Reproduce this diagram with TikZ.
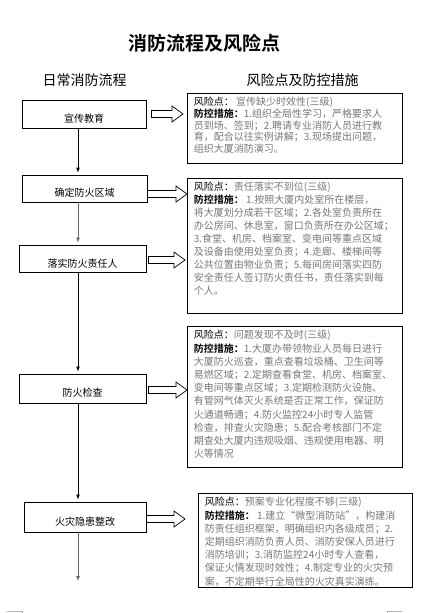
\documentclass[tikz,border=0pt]{standalone}
\usepackage{fontspec}
\setmainfont{Noto Sans CJK SC}[BoldFont={Noto Sans CJK SC Bold}]
\usetikzlibrary{calc}
\definecolor{notegray}{RGB}{120,120,120}
\newcommand{\lbl}[1]{\textcolor{black}{#1}}
\newcommand{\lblb}[1]{\textcolor{black}{\bfseries #1}}
\newcommand{\blockarrow}[2]{%
  \draw[hollow] let \p1=(#1), \p2=(#2) in
    (\x1,{\y1+3.5pt}) -- ({\x2-11pt},{\y1+3.5pt}) -- ({\x2-11pt},{\y1+8pt})
    -- (\x2,\y1) -- ({\x2-11pt},{\y1-8pt}) -- ({\x2-11pt},{\y1-3.5pt})
    -- (\x1,{\y1-3.5pt}) -- cycle;}
\tikzset{
  stepbox/.style={draw, line width=0.8pt, inner sep=0pt,
    font=\fontsize{10}{12}\selectfont},
  riskbox/.style={draw, line width=0.8pt, anchor=north west,
    inner xsep=6.5pt, inner ysep=4pt, align=left, text=notegray},
  flow/.style={-latex, line width=0.7pt, shorten >=2pt},
  hollow/.style={line width=0.7pt, fill=white},
}
\begin{document}
\begin{tikzpicture}[x=1pt, y=-1pt]
\useasboundingbox (0,0) rectangle (426,613);
\fill[white] (0,0) rectangle (426,613);

%headings
\node[font=\fontsize{19}{22}\selectfont\bfseries] (title) at (204,43) {消防流程及风险点};
\node[font=\fontsize{14}{16}\selectfont] (lefthead) at (84.5,80) {日常消防流程};
\node[font=\fontsize{14}{16}\selectfont] (righthead) at (302.5,80) {风险点及防控措施};

%daily steps
\node[stepbox, minimum width=124pt, minimum height=28pt] (b1) at (84,114)
  {\raisebox{-5pt}[\height][\depth]{宣传教育}};
\node[stepbox, minimum width=125pt, minimum height=27pt] (b2) at (84.5,188.5)
  {\raisebox{-4.5pt}[\height][\depth]{确定防火区域}};
\node[stepbox, minimum width=127pt, minimum height=27pt] (b3) at (82.5,258.5)
  {\raisebox{-5.5pt}[\height][\depth]{落实防火责任人}};
\node[stepbox, minimum width=127pt, minimum height=29pt] (b4) at (82.5,388.5)
  {\raisebox{-4.5pt}[\height][\depth]{防火检查}};
\node[stepbox, minimum width=122pt, minimum height=30pt] (b5) at (85,517)
  {\raisebox{-5pt}[\height][\depth]{火灾隐患整改}};

\coordinate (spine) at (78,0);
\coordinate (flowend) at (78,581);
\draw[flow] (b1.south -| spine) -- (b2.north -| spine);
\draw[flow, black!60] (b2.south -| spine) -- (b3.north -| spine);
\draw[flow] (b3.south -| spine) -- (b4.north -| spine);
\draw[flow] (b4.south -| spine) -- (b5.north -| spine);
\draw[flow, black!60, shorten >=0pt] (b5.south -| spine) -- (flowend);

%risk points
\node[riskbox] (r1) at (187,93)
  {\parbox[t][62pt][t]{202pt}{\fontsize{10}{11.7}\selectfont
  \lbl{风险点：}\ 宣传缺少时效性(三级)\\
  \lblb{防控措施：}1.组织全局性学习，严格要求人\\
  员到场、签到；2.聘请专业消防人员进行教\\
  育，配合以往实例讲解；3.现场提出问题，\\
  组织大厦消防演习。}};
\node[riskbox] (r2) at (187,178)
  {\parbox[t][127pt][t]{202pt}{\fontsize{10}{12.9}\selectfont
  \lbl{风险点：}责任落实不到位(三级)\\
  \lblb{防控措施：}\ 1.按照大厦内处室所在楼层，\\
  将大厦划分成若干区域；2.各处室负责所在\\
  办公房间、休息室，窗口负责所在办公区域；\\
  3.食堂、机房、档案室、变电间等重点区域\\
  及设备由使用处室负责；4.走廊、楼梯间等\\
  公共位置由物业负责；5.每间房间落实四防\\
  安全责任人签订防火责任书，责任落实到每\\
  个人。}};
\node[riskbox] (r3) at (187,326)
  {\parbox[t][133pt][t]{202pt}{\fontsize{10}{13.2}\selectfont
  \lbl{风险点：}问题发现不及时(三级)\\
  \lblb{防控措施：}1.大厦办带领物业人员每日进行\\
  大厦防火巡查，重点查看垃圾桶、卫生间等\\
  易燃区域；2.定期查看食堂、机房、档案室、\\
  变电间等重点区域；3.定期检测防火设施、\\
  有管网气体灭火系统是否正常工作，保证防\\
  火通道畅通；4.防火监控24小时专人监管\\
  检查，排查火灾隐患；5.配合考核部门不定\\
  期查处大厦内违规吸烟、违规使用电器、明\\
  火等情况}};
\node[riskbox] (r4) at (198,493)
  {\parbox[t][86pt][t]{201pt}{\fontsize{10}{13.2}\selectfont
  \lbl{风险点：}预案专业化程度不够(三级)\\
  \lblb{防控措施：}\ 1.建立“微型消防站”，构建消\\
  防责任组织框架，明确组织内各级成员；2.\\
  定期组织消防负责人员、消防安保人员进行\\
  消防培训；3.消防监控24小时专人查看，\\
  保证火情发现时效性；4.制定专业的火灾预\\
  案，不定期举行全局性的火灾真实演练。}};

%links
\blockarrow{[xshift=5pt]b1.east}{[xshift=-4pt]r1.west}
\blockarrow{[yshift=-5.5pt]b2.east}{r2.west}
\blockarrow{[xshift=2pt, yshift=-1.5pt]b3.east}{[xshift=-2pt]r2.west}
\blockarrow{[xshift=2pt, yshift=-1.5pt]b4.east}{r3.west}
\blockarrow{[yshift=-2pt]b5.east}{[xshift=-13pt]r4.west}

%page corners
\draw[black!30, line width=0.6pt] (7,611) -- (22,611) -- (22,613);
\draw[black!30, line width=0.6pt] (402,611) -- (387,611) -- (387,613);
\end{tikzpicture}
\end{document}
